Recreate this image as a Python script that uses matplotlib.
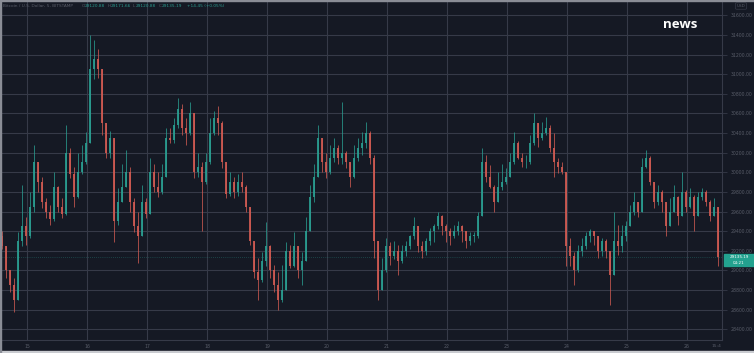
import numpy as np
import matplotlib
matplotlib.use("Agg")
import matplotlib.pyplot as plt
from matplotlib.patches import Rectangle

# ---------------------------------------------------------------- data
FIRST_OPEN = 29350
closes = [29250, 29000, 28850, 28700, 29300, 29450, 29350, 29650, 30100, 29900,
          29700, 29600, 29520, 29850, 29650, 29580, 30200, 29980, 29750, 30000,
          30100, 30300, 31050, 31150, 31050, 30500, 30200, 30350, 29500, 29700,
          29850, 30000, 29700, 29450, 29350, 29700, 29580, 30000, 29850, 29800,
          29950, 30350, 30330, 30480, 30650, 30450, 30400, 30600, 30000, 30050,
          29900, 30100, 30400, 30550, 30500, 30100, 29780, 29900, 29800, 29900,
          29850, 29650, 29300, 28980, 28900, 29100, 29250, 29000, 28850, 28700,
          28800, 29200, 29050, 29250, 29000, 29100, 29400, 29750, 29950, 30350,
          30100, 30000, 30150, 30250, 30150, 30200, 30100, 29950, 30150, 30250,
          30300, 30400, 30150, 29300, 28800, 29000, 29250, 29150, 29200, 29100,
          29200, 29250, 29350, 29450, 29250, 29200, 29300, 29400, 29450, 29550,
          29450, 29400, 29350, 29400, 29450, 29400, 29300, 29350, 29350, 29550,
          30100, 29950, 29850, 29700, 29850, 29900, 29950, 30100, 30300, 30150,
          30100, 30100, 30300, 30500, 30350, 30400, 30450, 30250, 30100, 30050,
          30000, 29250, 29150, 29000, 29200, 29250, 29350, 29400, 29350, 29200,
          29300, 29200, 28950, 29300, 29250, 29350, 29450, 29600, 29700, 29600,
          30050, 30150, 29900, 29700, 29800, 29700, 29450, 29600, 29750, 29550,
          29800, 29650, 29750, 29550, 29750, 29800, 29700, 29550, 29650, 29135.19]
highs = [29400, 29190, 28980, 28920, 29390, 29870, 29540, 29800, 30280, 30100,
         29950, 29740, 29670, 30000, 29860, 29740, 30480, 30250, 30050, 30200,
         30280, 30410, 31400, 31350, 31260, 30950, 30500, 30420, 30350, 29840,
         30080, 30230, 30050, 29740, 29600, 29870, 29740, 30150, 30080, 30000,
         30080, 30450, 30450, 30550, 30760, 30700, 30550, 30720, 30600, 30200,
         30100, 30200, 30550, 30620, 30680, 30520, 30100, 30000, 29950, 29980,
         30000, 29870, 29650, 29300, 29130, 29190, 29490, 29260, 29060, 28980,
         29060, 29290, 29260, 29390, 29250, 29190, 29540, 29870, 30080, 30480,
         30350, 30200, 30280, 30350, 30280, 30720, 30220, 30100, 30280, 30350,
         30410, 30510, 30420, 30180, 29300, 29130, 29330, 29290, 29300, 29260,
         29260, 29300, 29360, 29540, 29450, 29300, 29330, 29430, 29470, 29600,
         29560, 29470, 29430, 29460, 29500, 29460, 29400, 29390, 29390, 29600,
         30250, 30180, 30070, 29870, 30000, 30080, 30040, 30200, 30410, 30320,
         30200, 30180, 30380, 30600, 30500, 30510, 30560, 30480, 30400, 30150,
         30100, 30000, 29330, 29190, 29260, 29330, 29390, 29420, 29400, 29350,
         29330, 29320, 29200, 29600, 29460, 29460, 29500, 29670, 29800, 29700,
         30150, 30230, 30170, 29900, 29870, 29820, 29700, 29740, 29870, 29760,
         30000, 29820, 29840, 29770, 29800, 29840, 29820, 29720, 29740, 29650]
lows = [29220, 28920, 28780, 28580, 28700, 29250, 29260, 29330, 29600, 29800,
        29640, 29530, 29460, 29500, 29600, 29530, 29560, 29940, 29650, 29740,
        29980, 30080, 30300, 30950, 30960, 30380, 30150, 30150, 29290, 29460,
        29700, 29870, 29600, 29390, 29080, 29350, 29530, 29580, 29800, 29750,
        29780, 29950, 30300, 30300, 30450, 30380, 30280, 30380, 29940, 29950,
        29400, 29880, 30080, 30380, 30380, 30040, 29740, 29760, 29740, 29760,
        29800, 29600, 29260, 28920, 28700, 28880, 29050, 28920, 28780, 28600,
        28680, 28800, 29020, 29030, 28920, 28850, 29100, 29400, 29700, 29950,
        30000, 29940, 29980, 30100, 30080, 30080, 30040, 29850, 29940, 30120,
        30180, 30250, 30080, 29130, 28700, 28850, 28980, 29060, 29120, 28950,
        29080, 29150, 29220, 29320, 29190, 29130, 29160, 29260, 29290, 29420,
        29360, 29290, 29260, 29330, 29360, 29290, 29230, 29260, 29290, 29330,
        29550, 29900, 29840, 29600, 29700, 29820, 29880, 29950, 30080, 30140,
        30050, 30040, 30080, 30280, 30260, 30330, 30380, 30210, 29950, 29990,
        29980, 29050, 29050, 28850, 28980, 29150, 29220, 29290, 29260, 29130,
        29150, 29130, 28650, 28950, 29160, 29190, 29300, 29450, 29560, 29540,
        29600, 30040, 29870, 29640, 29670, 29600, 29350, 29450, 29600, 29460,
        29550, 29600, 29640, 29400, 29550, 29720, 29660, 29500, 29550, 29050]

DAYS = list(range(15, 27))
PRICE_TICKS = list(range(28400, 31601, 200))
LAST_PRICE = 29135.19
HEADER_NAME = "Bitcoin / U.S. Dollar, 5, BITSTAMP"
HEADER_OHLC = [("O", "29120.88"), ("H", "29171.66"), ("L", "29120.88"), ("C", "29135.19")]
HEADER_CHG = "+14.45 (+0.05%)"

# ---------------------------------------------------------------- style
BG = "#151924"
GRID = "#363a48"
TXT = "#585c68"
UP = "#2a9d90"
DN = "#cf5a52"

W, H = 754, 353
fig = plt.figure(figsize=(W / 100, H / 100), dpi=100, facecolor=BG)
AX_W, AX_B = 722, 13
ax = fig.add_axes([0, AX_B / H, AX_W / W, (H - AX_B) / H])
ax.set_facecolor(BG)

# time axis in days, 60 px per day, first tick (15) at x=27 px
x0 = 15 - 27 / 60
ax.set_xlim(x0, x0 + AX_W / 60)
ax.set_ylim(28291, 31756)

n = len(closes)
t = x0 + (np.arange(n) * 4 + 2) / 60
opens = np.array([FIRST_OPEN] + closes[:-1], dtype=float)
c = np.array(closes, dtype=float)
hi = np.maximum(np.array(highs, float), np.maximum(opens, c))
lo = np.minimum(np.array(lows, float), np.minimum(opens, c))
col = np.where(c >= opens, UP, DN)

ax.vlines(t, lo, hi, colors=col, lw=0.6, alpha=0.9, zorder=3)
ax.bar(t, np.maximum(np.abs(c - opens), 8), bottom=np.minimum(opens, c),
       width=1.8 / 60, color=col, lw=0, alpha=0.9, zorder=4)

# grid
ax.set_xticks(DAYS)
ax.set_xticklabels([str(d) for d in DAYS])
ax.set_yticks(PRICE_TICKS)
ax.set_yticklabels([f"{p:.2f}" for p in PRICE_TICKS])
ax.grid(True, color=GRID, lw=0.8, zorder=0)
ax.yaxis.tick_right()
ax.tick_params(axis="y", length=3.5, width=0.6, color=GRID, labelsize=3.3,
               labelcolor=TXT, pad=2.5)
ax.tick_params(axis="x", length=0, labelsize=3.3, labelcolor=TXT, pad=3.2)
for s in ["top", "left"]:
    ax.spines[s].set_visible(False)
ax.spines["right"].set_color(GRID)
ax.spines["bottom"].set_color(GRID)
ax.spines["right"].set_linewidth(0.8)
ax.spines["bottom"].set_linewidth(0.8)

# last price line + tag (tag sits just below the 29200 label)
ax.axhline(LAST_PRICE, color=UP, lw=0.5, ls=(0, (1, 2)), alpha=0.6, zorder=2)
tag_top, tag_bot = 253.5, 266.0
fig.patches.append(Rectangle((724 / W, 1 - tag_bot / H), 30 / W, (tag_bot - tag_top) / H,
                             transform=fig.transFigure, color="#23a28f", zorder=5))
fig.text(739 / W, 1 - 257 / H, "29135.19", color="white", fontsize=3.0,
         ha="center", va="center", zorder=6)
fig.text(739 / W, 1 - 262.8 / H, "04:21", color="white", fontsize=3.0,
         ha="center", va="center", zorder=6)

# USD box
fig.text(741 / W, 1 - 6 / H, "USD", color=TXT, fontsize=3, ha="center", va="center",
         bbox=dict(boxstyle="round,pad=0.3", fc=BG, ec=GRID, lw=0.5))

# bottom time stub
fig.text(721 / W, 1 - 346 / H, "15:4", color=TXT, fontsize=3.2, ha="right", va="center")

# header legend
hy = 1 - 6 / H
fig.text(3 / W, hy, HEADER_NAME, color=TXT, fontsize=3.1, va="center")
xs = [82, 108, 133, 159]
for xx, (k, v) in zip(xs, HEADER_OHLC):
    fig.text(xx / W, hy, k, color=TXT, fontsize=3.1, va="center")
    fig.text((xx + 2.5) / W, hy, v, color=UP, fontsize=3.1, va="center")
fig.text(187 / W, hy, HEADER_CHG, color=UP, fontsize=3.1, va="center")

# news label
fig.text(680 / W, 1 - 25 / H, "news", color="white", fontsize=9.5,
         fontweight="bold", family=["Open Sans", "DejaVu Sans"],
         ha="center", va="center")

# screenshot border
fig.patches.append(Rectangle((0, 0), 1, 2.5 / H, transform=fig.transFigure,
                             color="#c9cbd0", zorder=10))
fig.patches.append(Rectangle((0, 0), 1 / W, 1, transform=fig.transFigure,
                             color="#8a8d96", zorder=10))
fig.patches.append(Rectangle((0, 1 - 1 / H), 1, 1 / H, transform=fig.transFigure,
                             color="#8a8d96", zorder=10))

fig.savefig("out.png", dpi=100, facecolor=BG)
